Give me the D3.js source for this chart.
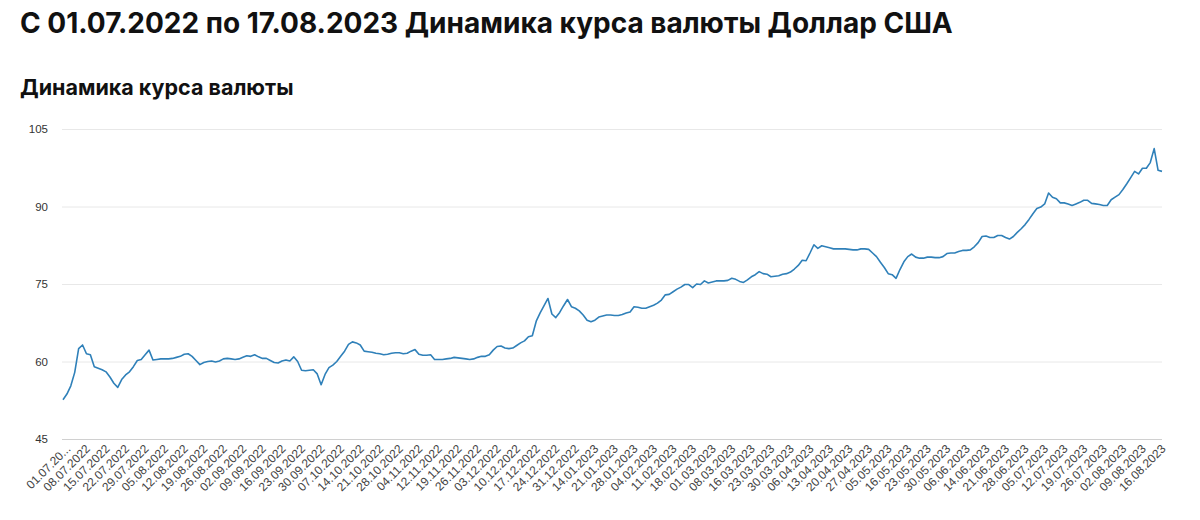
<!DOCTYPE html>
<html>
<head>
<meta charset="utf-8">
<script src="https://cdn.jsdelivr.net/npm/d3@7"></script>
<style>
  body { margin: 0; background: #fff; }
  .title { font-family: Inter, "Liberation Sans", sans-serif; font-weight: 700; fill: #111; }
  .tick text { font-family: "Liberation Sans", Arial, sans-serif; fill: #444; }
</style>
</head>
<body>
<svg id="chart" width="1200" height="520"></svg>
<script>
// one label every 5 quotes
const tickLabels = ["01.07.2022","08.07.2022","15.07.2022","22.07.2022","29.07.2022","05.08.2022","12.08.2022",
  "19.08.2022","26.08.2022","02.09.2022","09.09.2022","16.09.2022","23.09.2022","30.09.2022","07.10.2022",
  "14.10.2022","21.10.2022","28.10.2022","04.11.2022","12.11.2022","19.11.2022","26.11.2022","03.12.2022",
  "10.12.2022","17.12.2022","24.12.2022","31.12.2022","14.01.2023","21.01.2023","28.01.2023","04.02.2023",
  "11.02.2023","18.02.2023","01.03.2023","08.03.2023","16.03.2023","23.03.2023","30.03.2023","06.04.2023",
  "13.04.2023","20.04.2023","27.04.2023","05.05.2023","16.05.2023","23.05.2023","30.05.2023","06.06.2023",
  "14.06.2023","21.06.2023","28.06.2023","05.07.2023","12.07.2023","19.07.2023","26.07.2023","02.08.2023",
  "09.08.2023","16.08.2023"];

const rates = [
  52.6,53.7,55.3,57.9,62.5, 63.2,61.5,61.3,59.0,58.7, 58.4,58.0,57.0,55.8,55.0, 56.5,57.4,58.0,59.0,60.2,
  60.4,61.3,62.2,60.3,60.4, 60.5,60.5,60.5,60.6,60.8, 61.0,61.4,61.5,61.0,60.2, 59.4,59.8,60.0,60.1,59.9,
  60.1,60.5,60.6,60.5,60.4, 60.5,60.8,61.1,61.0,61.3, 60.9,60.6,60.6,60.2,59.8, 59.7,60.1,60.3,60.1,60.9,
  60.0,58.3,58.2,58.3,58.4, 57.6,55.5,57.5,58.8,59.3, 60.0,61.0,62.0,63.3,63.8, 63.6,63.2,62.0,61.9,61.8,
  61.6,61.5,61.3,61.4,61.6, 61.7,61.7,61.5,61.6,62.0, 62.3,61.4,61.2,61.2,61.3, 60.4,60.4,60.4,60.5,60.6,
  60.8,60.7,60.6,60.5,60.4, 60.5,60.8,61.0,61.0,61.3, 62.2,62.9,63.0,62.6,62.5, 62.6,63.1,63.6,64.0,64.8,
  65.0,67.8,69.4,70.8,72.2, 69.2,68.5,69.5,70.8,72.0, 70.6,70.3,69.8,69.0,68.0, 67.7,68.0,68.6,68.8,69.0,
  69.0,68.9,68.9,69.1,69.4, 69.6,70.6,70.5,70.3,70.3, 70.6,70.9,71.3,71.9,72.9, 73.0,73.5,74.0,74.4,74.9,
  74.9,74.3,75.0,74.9,75.6, 75.2,75.4,75.6,75.6,75.6, 75.7,76.1,75.9,75.5,75.3, 75.8,76.4,76.8,77.4,77.0,
  76.9,76.4,76.5,76.6,76.9, 77.0,77.3,77.9,78.6,79.6, 79.5,81.0,82.6,81.9,82.4, 82.2,82.0,81.8,81.8,81.8,
  81.8,81.7,81.6,81.6,81.8, 81.8,81.7,81.0,80.3,79.2, 78.2,77.0,76.8,76.1,77.8, 79.3,80.3,80.8,80.2,80.0,
  80.0,80.2,80.2,80.1,80.1, 80.3,80.9,81.0,81.0,81.3, 81.5,81.5,81.6,82.2,83.0, 84.2,84.3,84.0,84.0,84.4,
  84.4,84.0,83.7,84.2,85.0, 85.7,86.5,87.5,88.6,89.6, 89.9,90.5,92.6,91.8,91.5, 90.7,90.7,90.5,90.2,90.5,
  90.8,91.2,91.2,90.6,90.5, 90.4,90.2,90.2,91.3,91.8, 92.3,93.3,94.4,95.6,96.8, 96.3,97.4,97.4,98.5,101.2,
  97.0,96.8];

const yTicks = [45, 60, 75, 90, 105];
const labelStep = 5;

const svg = d3.select("#chart");
const margin = {left: 62, right: 38, top: 129, bottom: 81};
const width = 1200, height = 520;

svg.append("text").attr("class", "title")
    .attr("x", 20).attr("y", 33).style("font-size", "28px")
    .text("С 01.07.2022 по 17.08.2023 Динамика курса валюты Доллар США");
svg.append("text").attr("class", "title")
    .attr("x", 20).attr("y", 95).style("font-size", "21.5px")
    .text("Динамика курса валюты");

const x = d3.scaleLinear()
    .domain([0, rates.length - 1])
    .range([margin.left + 1, width - margin.right]);
const y = d3.scaleLinear()
    .domain([45, 105])
    .range([height - margin.bottom, margin.top]);

// gridlines + y labels
const yAxis = svg.append("g")
    .attr("transform", `translate(${margin.left},0)`)
    .call(d3.axisLeft(y).tickValues(yTicks).tickSize(-(width - margin.left - margin.right)).tickPadding(14));
yAxis.select(".domain").remove();
yAxis.selectAll(".tick line").attr("stroke", d => d === 45 ? "#d0d0d0" : "#e8e8e8");
yAxis.selectAll(".tick text").style("font-size", "11.5px").style("fill", "#333");

// x labels
const xAxis = svg.append("g")
    .attr("transform", `translate(0,${height - margin.bottom})`)
    .call(d3.axisBottom(x)
        .tickValues(tickLabels.map((d, i) => i * labelStep))
        .tickFormat((d, i) => i === 0 ? "01.07.20..." : tickLabels[i])
        .tickSize(0));
xAxis.select(".domain").remove();
xAxis.selectAll(".tick text")
    .style("font-size", "12px")
    .attr("text-anchor", "end")
    .attr("dx", "-2px").attr("dy", "10px")
    .attr("transform", "rotate(-45)");

const line = d3.line()
    .x((d, i) => x(i))
    .y(d => y(d));

svg.append("path")
    .datum(rates)
    .attr("fill", "none")
    .attr("stroke", "#2f80b9")
    .attr("stroke-width", 1.6)
    .attr("stroke-linejoin", "round")
    .attr("d", line);
</script>
</body>
</html>
